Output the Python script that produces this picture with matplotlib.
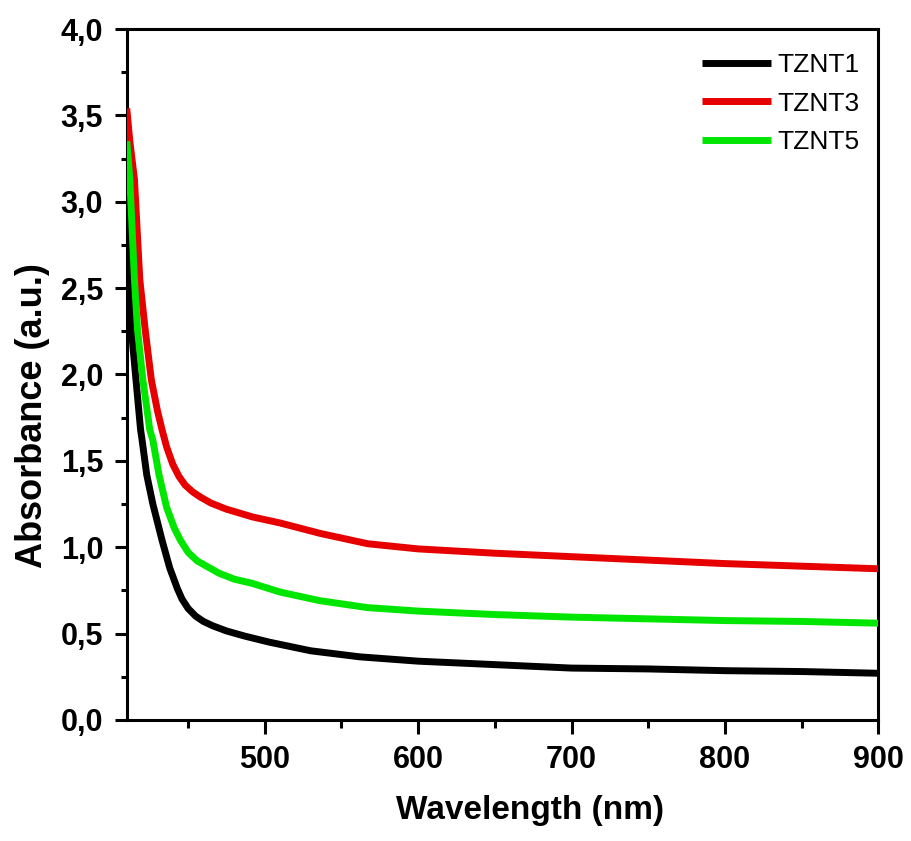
import matplotlib
matplotlib.use("Agg")
import matplotlib.pyplot as plt
from matplotlib.ticker import MultipleLocator, FuncFormatter

plt.rcParams['font.family'] = ['Liberation Sans', 'DejaVu Sans']

# values (wavelength in nm, absorbance in a.u.)
wl_tznt1 = [410, 411, 413, 416, 419, 420, 423, 427, 433, 438, 443, 446, 450, 455,
            460, 466, 475, 487, 503, 530, 562, 600, 650, 700, 750, 800, 850, 900]
abs_tznt1 = [2.85, 2.6, 2.26, 1.97, 1.68, 1.62, 1.42, 1.25, 1.04, 0.88, 0.76, 0.70,
             0.645, 0.60, 0.57, 0.545, 0.515, 0.485, 0.45, 0.40, 0.365, 0.34, 0.32,
             0.30, 0.295, 0.285, 0.28, 0.27]

wl_tznt3 = [410, 412, 415, 418.5, 422, 426, 430, 433, 436, 440, 444, 448, 453, 458,
            465, 475, 492, 510, 536, 567, 600, 650, 700, 750, 800, 850, 900]
abs_tznt3 = [3.54, 3.35, 3.13, 2.55, 2.26, 1.97, 1.79, 1.68, 1.58, 1.48, 1.41, 1.36,
             1.32, 1.29, 1.255, 1.22, 1.175, 1.14, 1.08, 1.02, 0.99, 0.965, 0.945,
             0.925, 0.905, 0.89, 0.875]

wl_tznt5 = [410, 412, 415, 417, 420.5, 425, 427, 431, 436, 441, 445, 450, 456, 462,
            470, 480, 492, 510, 536, 567, 600, 650, 700, 750, 800, 850, 900]
abs_tznt5 = [3.35, 3.13, 2.55, 2.26, 1.97, 1.68, 1.62, 1.42, 1.23, 1.11, 1.04, 0.97,
             0.92, 0.89, 0.85, 0.815, 0.79, 0.74, 0.69, 0.65, 0.63, 0.61, 0.595,
             0.585, 0.575, 0.57, 0.56]

fig = plt.figure(figsize=(9.12, 8.41), dpi=100)
ax = fig.add_axes([0.139, 0.144, 0.824, 0.8215])

style = dict(lw=5, zorder=3, solid_joinstyle='round', solid_capstyle='butt')
ax.plot(wl_tznt1, abs_tznt1, color='black', label='TZNT1', **style)
ax.plot(wl_tznt3, abs_tznt3, color='#e60000', label='TZNT3', **style)
ax.plot(wl_tznt5, abs_tznt5, color='#00e600', label='TZNT5', **style)

ax.set_xlim(410, 900)
ax.set_ylim(0, 4.0)
ax.xaxis.set_major_locator(MultipleLocator(100))
ax.xaxis.set_minor_locator(MultipleLocator(50))
ax.yaxis.set_major_locator(MultipleLocator(0.5))
ax.yaxis.set_minor_locator(MultipleLocator(0.25))
ax.yaxis.set_major_formatter(FuncFormatter(lambda v, p: f"{v:.1f}".replace('.', ',')))

for s in ax.spines.values():
    s.set_linewidth(2.2)
ax.tick_params(axis='x', which='major', direction='out', length=10, width=2.2,
               pad=8, labelsize=22)
ax.tick_params(axis='x', which='minor', direction='out', length=6, width=2.2)
ax.tick_params(axis='y', which='major', direction='out', length=9, width=2.2,
               pad=8, labelsize=22)
ax.tick_params(axis='y', which='minor', direction='out', length=4, width=2.2)
for lab in ax.get_xticklabels() + ax.get_yticklabels():
    lab.set_fontweight('bold')

ax.set_xlabel('Wavelength (nm)', fontsize=24, fontweight='bold')
ax.set_ylabel('Absorbance (a.u.)', fontsize=26, fontweight='bold')
ax.xaxis.set_label_coords(0.537, -0.108)
ax.yaxis.set_label_coords(-0.102, 0.44)

ax.legend(loc='upper right', bbox_to_anchor=(1.0, 0.992), frameon=False,
          fontsize=19, handlelength=2.6, handletextpad=0.27, labelspacing=0.55,
          borderaxespad=0.3)

fig.savefig('out.png', dpi=100)
